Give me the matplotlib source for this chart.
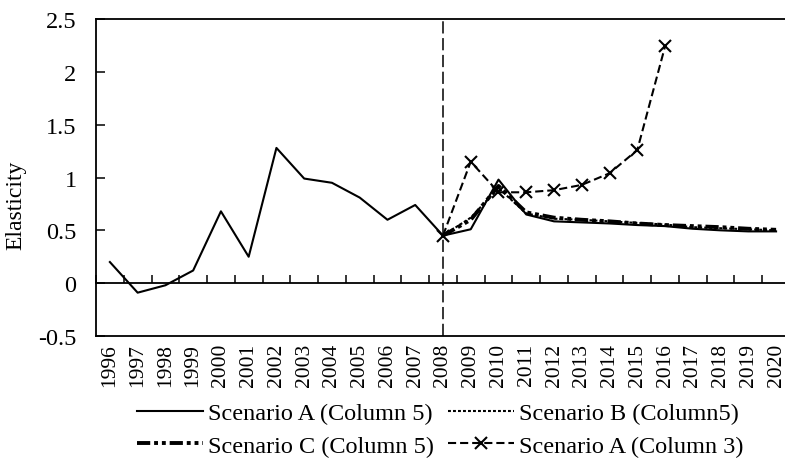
"""
Elasticity by year for four scenarios, with a dashed marker at 2008.
"""
import matplotlib
matplotlib.use("Agg")
import matplotlib.pyplot as plt
import numpy as np

plt.rcParams['font.family'] = ['Liberation Serif', 'DejaVu Serif']

years = [str(y) for y in range(1996, 2021)]

scen_a5 = [0.20, -0.09, -0.02, 0.12, 0.68, 0.25, 1.28, 0.99, 0.95, 0.81,
           0.60, 0.74, 0.45, 0.51, 0.98, 0.65, 0.585, 0.575, 0.565, 0.55,
           0.54, 0.515, 0.50, 0.49, 0.49]
# scenarios B, C and A(col 3) start in 2008
scen_b5 = [0.45, 0.62, 0.90, 0.66, 0.61, 0.60, 0.585, 0.57, 0.555, 0.53,
           0.52, 0.51, 0.50]
scen_c5 = [0.45, 0.60, 0.92, 0.67, 0.62, 0.60, 0.585, 0.565, 0.55, 0.54,
           0.53, 0.515, 0.505]
scen_a3 = [0.45, 1.15, 0.86, 0.86, 0.88, 0.93, 1.04, 1.26, 2.24]

split_year = "2008"

x_all = np.arange(len(years))
start = years.index(split_year)
x_fc = x_all[start:start + len(scen_b5)]
x_a3 = x_all[start:start + len(scen_a3)]

fig = plt.figure(figsize=(7.85, 4.6), dpi=100)
ax = fig.add_axes([0.1223, 0.2674, 0.884, 0.6891])

la5, = ax.plot(x_all, scen_a5, color="black", lw=1.5, label="Scenario A (Column 5)")
lb5, = ax.plot(x_fc, scen_b5, color="black", lw=1.5, dashes=(1.4, 1.0),
               label="Scenario B (Column5)")
lc5, = ax.plot(x_fc, scen_c5, color="black", lw=2.8,
               dashes=(3.4, 1.0, 1.0, 1.0, 1.0, 1.0),
               label="Scenario C (Column 5)")
la3, = ax.plot(x_a3, scen_a3, color="black", lw=1.5, dashes=(3.9, 1.9),
               marker="x", ms=8, mew=1.5, label="Scenario A (Column 3)")

ax.axvline(start, color="black", lw=1.1, dashes=(8, 3))

ax.set_ylim(-0.5, 2.5)
ax.set_xlim(-0.5, len(years) - 0.5)
ax.set_yticks(np.arange(-0.5, 2.51, 0.5))
ax.set_yticklabels(["-0.5", "0", "0.5", "1", "1.5", "2", "2.5"])
ax.tick_params(axis="y", direction="in", length=6.5, width=1.1, pad=14,
               labelsize=17.5)

ax.set_xticks(x_all)
ax.set_xticklabels(years, rotation=90, fontsize=15.5)
ax.tick_params(axis="x", length=0, pad=5)

# horizontal axis line at zero, with ticks between categories
zero_frac = (0 - (-0.5)) / 3.0
zax = ax.secondary_xaxis(zero_frac)
zax.set_xticks(np.arange(-0.5, len(years), 1.0))
zax.set_xticklabels([])
zax.tick_params(direction="in", length=6, width=1.1)
zax.spines["bottom"].set_linewidth(1.3)

for s in ax.spines.values():
    s.set_linewidth(1.3)

ax.set_ylabel("Elasticity", fontsize=17)
ax.yaxis.set_label_coords(-0.1, 0.416)

# column-wise fill: A5 / C5 in the first column, B5 / A3 in the second
fig.legend([la5, lc5, lb5, la3],
           [la5.get_label(), lc5.get_label(), lb5.get_label(), la3.get_label()],
           loc="center", bbox_to_anchor=(0.561, 0.064), ncol=2, frameon=False,
           fontsize=17.5, handlelength=2.7, handletextpad=0.2,
           columnspacing=0.6, labelspacing=0.42, borderpad=0)

fig.savefig("out.png", dpi=100)
